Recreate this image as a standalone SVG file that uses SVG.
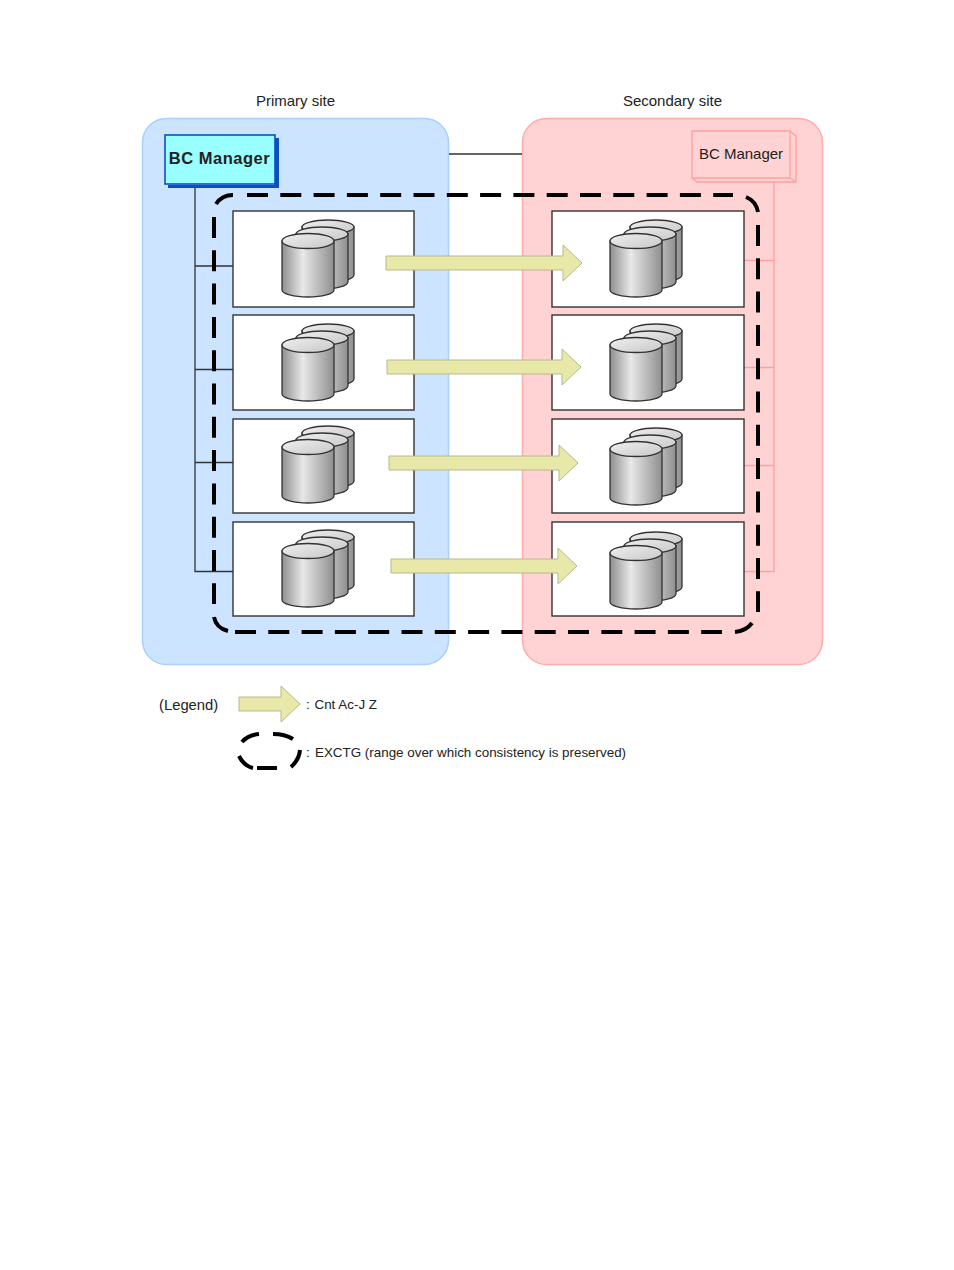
<svg xmlns="http://www.w3.org/2000/svg" width="954" height="1270" viewBox="0 0 954 1270">
<style>
text{font-family:"Liberation Sans",Arial,sans-serif;fill:#222}
.lbl{font-size:15px}
.leg{font-size:14.800px}
.sm{font-size:13.400px}
.box{fill:#fff;stroke:#333;stroke-width:1.400}
.cyl{fill:url(#g);stroke:#333;stroke-width:1.300}
.top{fill:url(#t);stroke:#333;stroke-width:1.300}
.arrow{fill:#e8e8a8;stroke:#b8b88e;stroke-width:1}
.dash{fill:none;stroke:#000;stroke-width:4;stroke-dasharray:21 12.300}
.arc{fill:none;stroke:#000;stroke-width:4}
.bk{fill:none;stroke:#333;stroke-width:1.300}
.pk{fill:none;stroke:#ff9f9f;stroke-width:1.300}
</style>
<defs>
<linearGradient id="g"><stop offset="0" stop-color="#8f8f8f"/><stop offset=".4" stop-color="#e8e8e8"/><stop offset="1" stop-color="#8f8f8f"/></linearGradient>
<linearGradient id="t" x1="0" y1="0" x2="1" y2="1"><stop offset="0" stop-color="#f0f0f0"/><stop offset="1" stop-color="#c8c8c8"/></linearGradient>
<g id="stack">
<path class="cyl" d="M20-14V34A26 7 0 0 0 72 34V-14Z"/><ellipse class="top" cx="46" cy="-14" rx="26" ry="7"/>
<path class="cyl" d="M14-7V41A26 7 0 0 0 66 41V-7Z"/><ellipse class="top" cx="40" cy="-7" rx="26" ry="7"/>
<path class="cyl" d="M0 0V49A26 7 0 0 0 52 49V0Z"/><ellipse class="top" cx="26" cy="0" rx="26" ry="7.500"/>
</g>
</defs>
<rect width="954" height="1270" fill="#fff"/>
<g id="primary-site"><rect x="142.500" y="118.500" width="306" height="546" rx="24" fill="#cce4ff" stroke="#a8d0fa" stroke-width="1.500"/><text class="lbl" x="295.500" y="105.500" text-anchor="middle">Primary site</text></g>
<g id="secondary-site"><rect x="522.500" y="118.500" width="300" height="546" rx="24" fill="#ffd3d3" stroke="#ffadad" stroke-width="1.500"/><text class="lbl" x="672.500" y="105.500" text-anchor="middle">Secondary site</text></g>
<g id="connectors">
<path class="bk" d="M449 154H522M195 185V571.500H233M195 266H233M195 369.500H233M195 462.500H233"/>
<path class="pk" d="M774 182V571.500H744M744 260.500H774M744 367.500H774M744 465.500H774"/>
</g>
<g id="bc-primary"><path d="M168 185V188H279V138H275V185Z" fill="#0c4fc4"/><rect x="165" y="135" width="110" height="49" fill="#99ffff" stroke="#0c4fc4" stroke-width="1.600"/><text x="219.500" y="164" text-anchor="middle" font-weight="bold" letter-spacing=".5" style="font-size:16.500px">BC Manager</text></g>
<g id="bc-secondary"><path d="M692 131H790V178H692ZM790 131L796 136V182H697L692 178M790 178L796 182" fill="none" stroke="#ff9f9f" stroke-width="1.300"/><text class="lbl" x="741" y="159" text-anchor="middle">BC Manager</text></g>
<g id="p1"><rect class="box" x="233" y="211" width="181" height="96"/><use href="#stack" x="282" y="241"/></g>
<g id="p2"><rect class="box" x="233" y="315" width="181" height="95"/><use href="#stack" x="282" y="345"/></g>
<g id="p3"><rect class="box" x="233" y="419" width="181" height="94"/><use href="#stack" x="282" y="447"/></g>
<g id="p4"><rect class="box" x="233" y="522" width="181" height="94"/><use href="#stack" x="282" y="551"/></g>
<g id="s1"><rect class="box" x="552" y="211" width="192" height="96"/><use href="#stack" x="610" y="241"/></g>
<g id="s2"><rect class="box" x="552" y="315" width="192" height="95"/><use href="#stack" x="610" y="345"/></g>
<g id="s3"><rect class="box" x="552" y="419" width="192" height="94"/><use href="#stack" x="610" y="449"/></g>
<g id="s4"><rect class="box" x="552" y="522" width="192" height="94"/><use href="#stack" x="610" y="553"/></g>
<g id="copy-arrows">
<path class="arrow" d="M386 256H563V245L582 263L563 281V270H386Z"/>
<path class="arrow" d="M387 360H562V349L581 367L562 385V374H387Z"/>
<path class="arrow" d="M389 456H559V445L578 463L559 481V470H389Z"/>
<path class="arrow" d="M391 559H558V548L577 566L558 584V573H391Z"/>
</g>
<g id="exctg">
<path class="dash" d="M247 195H733M758 225V612M235 632H722M214 217V604"/>
<path class="arc" d="M216 204Q222 195 233 195M746 197Q756 201 758 212M214 617Q216 628 228 631M735 632Q746 631 752 623"/>
</g>
<g id="legend">
<text class="leg" x="159" y="710">(Legend)</text>
<path class="arrow" d="M239 697H281V686L300 704L281 722V711H239Z"/>
<text class="sm" x="306" y="709">:</text>
<text class="sm" x="314.500" y="709">Cnt Ac-J Z</text>
<path class="arc" d="M242 742Q248 735 259 734M273 734Q285 734 293 739M300 750Q299 760 291 767M257 768H277M239 756Q244 766 253 768"/>
<text class="sm" x="306" y="757">:</text>
<text class="sm" x="315" y="757">EXCTG (range over which consistency is preserved)</text>
</g>
</svg>
